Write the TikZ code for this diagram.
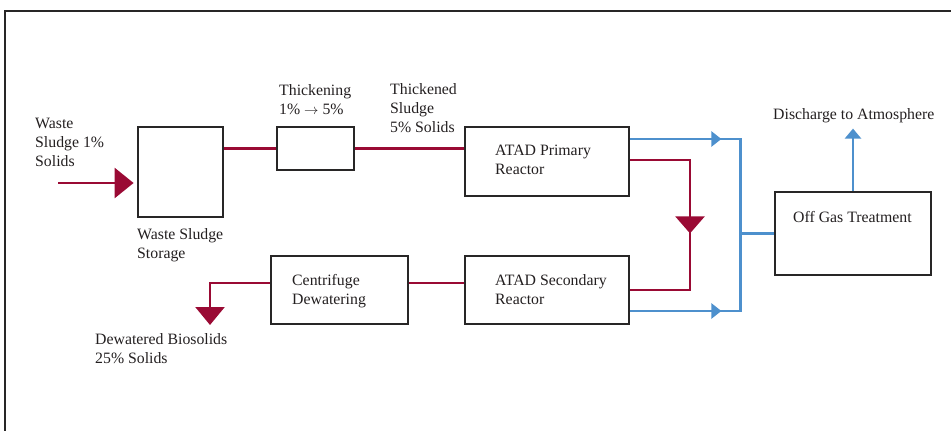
\documentclass[tikz,border=0pt]{standalone}
\usepackage{fontspec}
\setmainfont{Liberation Serif}
\usetikzlibrary{arrows.meta,decorations.markings}
\definecolor{frame}{RGB}{40,38,38}
\definecolor{txt}{RGB}{35,31,32}
\definecolor{sred}{RGB}{154,10,52}
\definecolor{gblue}{RGB}{77,144,205}
\tikzset{
  box/.style={draw=frame, line width=2.8pt, inner sep=0pt, fill=white},
  lbl/.style={text=txt, inner sep=0pt, align=left, anchor=base west,
    font=\fontsize{15.8}{19}\selectfont},
  sludge/.style={draw=sred, line width=2.6pt},
  gas/.style={draw=gblue, line width=2.6pt},
  bigtip/.style={-{Triangle[length=19pt,width=30pt]}},
  midred/.style={postaction={decorate}, decoration={markings,
    mark=at position #1 with {\arrow[sred]{Triangle[length=17pt,width=29pt]}}}},
  midblue/.style={postaction={decorate}, decoration={markings,
    mark=at position #1 with {\arrow[gblue]{Triangle[length=10pt,width=15pt]}}}},
}
\begin{document}
\begin{tikzpicture}[x=1pt,y=-1pt]
\useasboundingbox (0,0) rectangle (951,431);
% frame
\draw[frame, line width=2.6pt] (951,11) -- (5,11) -- (5,431);

% boxes
\node[box, minimum width=85pt, minimum height=90pt] (stor) at (180.5,172) {};
\node[box, minimum width=77pt, minimum height=43pt] (thick) at (315.5,148.5) {};
\node[box, minimum width=164pt, minimum height=69pt] (prim) at (547,161.5) {};
\node[box, minimum width=164pt, minimum height=68pt] (sec) at (547,290) {};
\node[box, minimum width=137pt, minimum height=68pt] (cent) at (339.5,290) {};
\node[box, minimum width=156pt, minimum height=83pt] (off) at (853,233.5) {};

% labels (anchored at the baseline of their last line)
\node[lbl] (lin) at (35,166) {Waste\\Sludge 1\%\\Solids};
\node[lbl] (lstor) at (137,258) {Waste Sludge\\Storage};
\node[lbl] (lthick) at (279,114) {Thickening\\1\% $\rightarrow$ 5\%};
\node[lbl] (lthd) at (390,132) {Thickened\\Sludge\\5\% Solids};
\node[lbl] (lprim) at (495,174) {ATAD Primary\\Reactor};
\node[lbl] (lsec) at (495,304) {ATAD Secondary\\Reactor};
\node[lbl] (lcent) at (292,304) {Centrifuge\\Dewatering};
\node[lbl] (lout) at (95,363) {Dewatered Biosolids\\25\% Solids};
\node[lbl] (loff) at (793,222) {Off Gas Treatment};
\node[lbl] (ldis) at (773,119) {Discharge to Atmosphere};

% coordinates
\coordinate (inl) at (58,183);
\coordinate (outc) at (210,325);
\coordinate (atm) at ([yshift=62pt]off.north);
\coordinate (j) at ([xshift=-33pt]off.west);

% sludge lines
\draw[sludge, bigtip, sred, shorten >=3pt] (inl) -- ([yshift=-11pt]stor.west);
\draw[sludge] ([yshift=23.5pt]stor.east) -- (thick.west);
\draw[sludge] (thick.east) -- ([yshift=13pt]prim.west);
\draw[sludge, midred=133pt] ([yshift=1.5pt]prim.east) -| (690,290) -- (sec.east);
\draw[sludge] ([yshift=7pt]sec.west) -- ([yshift=7pt]cent.east);
\draw[sludge, sred, -{Triangle[length=18pt,width=29pt]}] ([yshift=7pt]cent.west) -| (outc);

% gas lines
\draw[gas, midblue=91pt] ([yshift=22.5pt]prim.east) -| (j) -- (off.west);
\draw[gas, midblue=91pt] ([yshift=-21pt]sec.east) -| (j);
\draw[gas, gblue, -{Triangle[length=10pt,width=16pt]}] (off.north) -- (atm);
\end{tikzpicture}
\end{document}
